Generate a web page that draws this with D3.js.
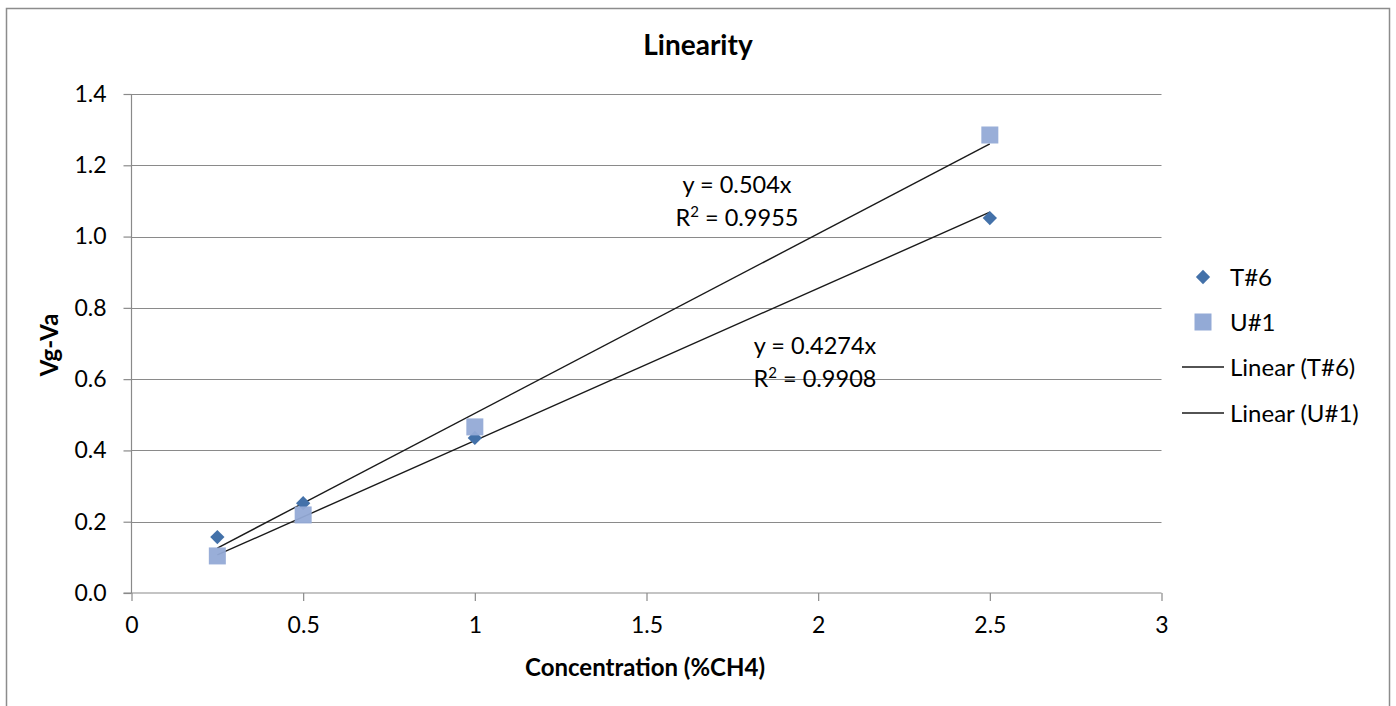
<!DOCTYPE html>
<html>
<head>
<meta charset="utf-8">
<script src="https://cdn.jsdelivr.net/npm/d3@7"></script>
<style>
  html, body { margin: 0; padding: 0; background: #fff; }
  svg { display: block; }
  text { font-family: Lato, "Open Sans", "Liberation Sans", sans-serif; fill: #000; }
</style>
</head>
<body>
<svg id="chart" width="1396" height="706"></svg>
<script>
// Concentration levels (%CH4)
const concentrations = [0.25, 0.5, 1, 2.5];
// Measured Vg-Va response per sensor
const seriesT6 = [0.157, 0.252, 0.435, 1.052];
const seriesU1 = [0.104, 0.219, 0.466, 1.285];
// Linear trend lines through the origin
const trendSlopes = [0.4274, 0.504];
const trendR2 = [0.9908, 0.9955];
const trendNames = ["Linear (T#6)", "Linear (U#1)"];
const seriesNames = ["T#6", "U#1"];
const xTicks = [0, 0.5, 1, 1.5, 2, 2.5, 3];
const yTicks = [0, 0.2, 0.4, 0.6, 0.8, 1.0, 1.2, 1.4];

const svg = d3.select("#chart");

const FONT = "Lato, sans-serif";
const DIAMOND_COLOR = "#4371a9";
const SQUARE_COLOR = "#93aad6";

// Outer chart frame
svg.append("rect")
  .attr("x", 6.5).attr("y", 8.5)
  .attr("width", 1383).attr("height", 720)
  .attr("fill", "#fff").attr("stroke", "#8c8c8c").attr("stroke-width", 1.5);

const plot = { left: 131.5, right: 1161.5, top: 94, bottom: 593 };

const x = d3.scaleLinear().domain([0, 3]).range([plot.left, plot.right]);
const y = d3.scaleLinear().domain([0, 1.4]).range([plot.bottom, plot.top]);

// Horizontal gridlines
svg.append("g")
  .selectAll("line")
  .data(yTicks.filter(d => d > 0))
  .join("line")
  .attr("x1", plot.left).attr("x2", plot.right)
  .attr("y1", d => Math.round(y(d)) + 0.5).attr("y2", d => Math.round(y(d)) + 0.5)
  .attr("stroke", "#8a8a8a").attr("stroke-width", 1);

// Y axis
const yAxis = svg.append("g")
  .attr("transform", `translate(${plot.left},0)`)
  .call(d3.axisLeft(y).tickValues(yTicks).tickFormat(d3.format(".1f")).tickSize(8).tickPadding(17));
yAxis.select(".domain").attr("stroke", "#8a8a8a").attr("stroke-width", 1.2).attr("d", `M0,${plot.top}V${plot.bottom}`);
yAxis.selectAll(".tick line").attr("stroke", "#8a8a8a").attr("stroke-width", 1.2);
yAxis.selectAll(".tick text").attr("font-size", 23).attr("font-family", FONT).attr("fill", "#000");

// X axis
const xAxis = svg.append("g")
  .attr("transform", `translate(0,${plot.bottom})`)
  .call(d3.axisBottom(x).tickValues(xTicks).tickFormat(d => d3.format("")(d)).tickSize(8).tickPadding(16));
xAxis.select(".domain").attr("stroke", "#8a8a8a").attr("stroke-width", 1.2).attr("d", `M${plot.left - 8},0H${plot.right}`);
xAxis.selectAll(".tick line").attr("stroke", "#8a8a8a").attr("stroke-width", 1.2);
xAxis.selectAll(".tick text").attr("font-size", 23).attr("font-family", FONT).attr("fill", "#000");

// Trend lines (drawn across the measured range)
const xMin = d3.min(concentrations), xMax = d3.max(concentrations);
svg.append("g")
  .selectAll("line")
  .data(trendSlopes)
  .join("line")
  .attr("x1", x(xMin)).attr("y1", s => y(s * xMin))
  .attr("x2", x(xMax)).attr("y2", s => y(s * xMax))
  .attr("stroke", "#1a1a1a").attr("stroke-width", 1.4);

// T#6 diamonds
const diamond = d3.symbol().type(d3.symbolDiamond2).size(130);
svg.append("g")
  .selectAll("path")
  .data(concentrations.map((c, i) => [c, seriesT6[i]]))
  .join("path")
  .attr("d", diamond)
  .attr("transform", d => `translate(${x(d[0])},${y(d[1])})`)
  .attr("fill", DIAMOND_COLOR);

// U#1 squares
const sq = 17;
svg.append("g")
  .selectAll("rect")
  .data(concentrations.map((c, i) => [c, seriesU1[i]]))
  .join("rect")
  .attr("x", d => x(d[0]) - sq / 2).attr("y", d => y(d[1]) - sq / 2)
  .attr("width", sq).attr("height", sq)
  .attr("fill", SQUARE_COLOR).attr("fill-opacity", 0.95);

// Trendline equations
function equationLabel(cx, cy, slope, r2) {
  const g = svg.append("g").attr("font-size", 23.5);
  g.append("text").attr("x", cx).attr("y", cy).attr("text-anchor", "middle")
    .text(`y = ${slope}x`);
  const t = g.append("text").attr("x", cx).attr("y", cy + 33).attr("text-anchor", "middle");
  t.append("tspan").text("R");
  t.append("tspan").attr("font-size", 15).attr("dy", -9).text("2");
  t.append("tspan").attr("dy", 9).text(` = ${r2}`);
}
equationLabel(737, 193, trendSlopes[1], trendR2[1]);
equationLabel(815, 354, trendSlopes[0], trendR2[0]);

// Title
svg.append("text")
  .attr("x", 698).attr("y", 55).attr("text-anchor", "middle")
  .attr("font-size", 28).attr("font-weight", "bold")
  .text("Linearity");

// Axis titles
svg.append("text")
  .attr("transform", "translate(58,345) rotate(-90)")
  .attr("text-anchor", "middle")
  .attr("font-size", 24).attr("font-weight", "bold")
  .text("Vg-Va");

svg.append("text")
  .attr("x", 645).attr("y", 676).attr("text-anchor", "middle")
  .attr("font-size", 24).attr("font-weight", "bold")
  .text("Concentration (%CH4)");

// Legend
const legend = svg.append("g").attr("font-size", 24);
const lx = 1203, lt = 1230;
legend.append("path")
  .attr("d", diamond).attr("transform", `translate(${lx},277)`).attr("fill", DIAMOND_COLOR);
legend.append("text").attr("x", lt).attr("y", 286).text(seriesNames[0]);
legend.append("rect")
  .attr("x", lx - 8.5).attr("y", 313.5).attr("width", 17).attr("height", 17).attr("fill", SQUARE_COLOR);
legend.append("text").attr("x", lt).attr("y", 331).text(seriesNames[1]);
[367, 413].forEach((ly, i) => {
  legend.append("line").attr("x1", 1182).attr("x2", 1224).attr("y1", ly).attr("y2", ly)
    .attr("stroke", "#1a1a1a").attr("stroke-width", 1.4);
  legend.append("text").attr("x", lt).attr("y", ly + 9).text(trendNames[i]);
});
</script>
</body>
</html>
